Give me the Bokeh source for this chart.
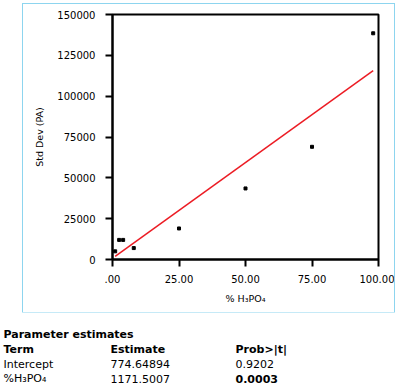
from bokeh.plotting import figure
from bokeh.models import Range1d, FixedTicker
from bokeh.layouts import column
from bokeh.core.properties import value
from bokeh.embed import file_html
from bokeh.resources import INLINE

# data
pct_h3po4 = [1.0, 2.5, 4.0, 8.0, 25.0, 50.0, 75.0, 98.0]
std_dev = [5000, 12000, 12000, 7000, 19000, 43500, 69000, 138500]
intercept = 774.64894
slope = 1171.5007

x_ticks = [0, 25, 50, 75, 100]
x_tick_labels = [".00", "25.00", "50.00", "75.00", "100.00"]
y_ticks = [0, 25000, 50000, 75000, 100000, 125000, 150000]
y_tick_labels = ["0", "25000", "50000", "75000", "100000", "125000", "150000"]

table_title = "Parameter estimates"
table_header = ["Term", "Estimate", "Prob>|t|"]
table_rows = [["Intercept", "774.64894", "0.9202"],
              ["%H₃PO₄", "1171.5007", "0.0003"]]
bold_cells = {(1, 2)}

FONT = "DejaVu Sans"

# ---------------- chart ----------------
CW, CH = 371, 308
p = figure(width=CW, height=CH, output_backend="svg", toolbar_location=None,
           x_range=Range1d(0, 100), y_range=Range1d(0, 150000),
           min_border_left=89, min_border_right=16, min_border_top=10,
           min_border_bottom=53, margin=(4, 0, 0, 23))
p.styles = {"outline": "1.5px solid #8dd5ef", "outline-offset": "0px"}
try:
    p.frame_align = False
except Exception:
    pass

p.outline_line_color = "black"
p.outline_line_width = 2
p.xgrid.visible = False
p.ygrid.visible = False

for ax in (p.xaxis[0], p.yaxis[0]):
    ax.axis_line_color = "black"
    ax.axis_line_width = 2
    ax.major_tick_line_color = "black"
    ax.major_tick_line_width = 2
    ax.major_tick_out = 7
    ax.major_tick_in = 0
    ax.minor_tick_line_color = None
    ax.major_label_text_font = FONT
    ax.major_label_text_font_size = "10px"
    ax.major_label_text_color = "black"
    ax.axis_label_text_font = FONT
    ax.axis_label_text_font_size = "9.5px"
    ax.axis_label_text_font_style = "normal"
    ax.axis_label_text_color = "black"

p.xaxis[0].ticker = FixedTicker(ticks=x_ticks)
p.xaxis[0].major_label_overrides = dict(zip(x_ticks, x_tick_labels))
p.xaxis[0].major_label_standoff = 8
p.xaxis[0].axis_label = "% H₃PO₄"
p.xaxis[0].axis_label_standoff = 7

p.yaxis[0].ticker = FixedTicker(ticks=y_ticks)
p.yaxis[0].major_label_overrides = dict(zip(y_ticks, y_tick_labels))
p.yaxis[0].major_label_standoff = 10
p.yaxis[0].axis_label = "Std Dev (PA)"
p.yaxis[0].axis_label_standoff = 9

x_line = [min(pct_h3po4), max(pct_h3po4)]
y_line = [intercept + slope * v for v in x_line]
p.line(x_line, y_line, line_color="#ec1c24", line_width=1.5)
p.scatter(pct_h3po4, std_dev, marker="square", size=3, color="black")

# ---------------- parameter table ----------------
TW, TH = 398, 76
t = figure(width=TW, height=TH, output_backend="svg", toolbar_location=None,
           x_range=Range1d(0, TW), y_range=Range1d(TH, 0),
           min_border=0, min_border_left=0, min_border_right=0,
           min_border_top=0, min_border_bottom=0,
           x_axis_location=None, y_axis_location=None)
try:
    t.frame_align = False
except Exception:
    pass
t.outline_line_color = None
t.xgrid.visible = False
t.ygrid.visible = False

col_x = [3, 110, 235]
row_y = [22.3, 37, 51.7, 66.3]

cells = [(col_x[0], row_y[0], table_title, True)]
for j, s in enumerate(table_header):
    cells.append((col_x[j], row_y[1], s, True))
for i, row in enumerate(table_rows):
    for j, s in enumerate(row):
        cells.append((col_x[j], row_y[2 + i], s, (i, j) in bold_cells))

for bold in (True, False):
    sel = [c for c in cells if c[3] == bold]
    t.text(x=[c[0] for c in sel], y=[c[1] for c in sel], text=[c[2] for c in sel],
           text_font=value(FONT), text_font_size="11px",
           text_font_style="bold" if bold else "normal",
           text_color="black", text_baseline="alphabetic", text_align="left")

root = column(p, t, spacing=0)
open("out.html", "w").write(file_html(root, INLINE))
